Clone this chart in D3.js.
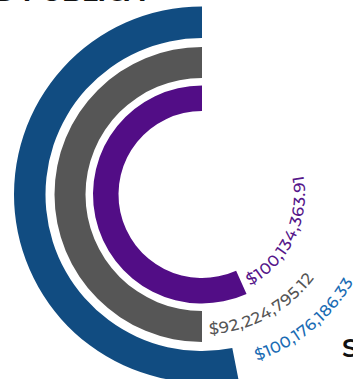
<!DOCTYPE html>
<html>
<head>
<meta charset="utf-8">
<script src="https://cdn.jsdelivr.net/npm/d3@7"></script>
<style>
  body { margin: 0; background: #fff; }
  svg { display: block; }
</style>
</head>
<body>
<div id="chart"></div>
<script>
// DATA (outer ring first)
var categories = ['blue', 'gray', 'purple'];
var amounts = [100176186.33, 92224795.12, 100134363.91];
// share of a full turn each bar sweeps
var progress = [0.531, 0.5, 0.567];

// LAYOUT
var WIDTH = 353;
var HEIGHT = 379;
var CX = 202;
var CY = 194.5;
var barColors = ['#114c81', '#565656', '#520d86'];
var labelColors = ['#1a6cb4', '#555555', '#55168a'];
var ringOuter = [188, 147.5, 109];
var ringInner = [156.5, 116.5, 83.5];
var labelRadius = [169, 134, 97];
var labelGap = [21, 7, 6];

var fmt = d3.format('$,.2f');

var svg = d3.select('#chart').append('svg')
    .attr('width', WIDTH)
    .attr('height', HEIGHT);

// cut-off heading text around the chart
svg.append('text')
    .attr('x', -6)
    .attr('y', 0.5)
    .style('font-family', 'Montserrat, "Open Sans", sans-serif')
    .style('font-weight', 700)
    .style('font-size', '26px')
    .attr('fill', '#111')
    .text('D PUBLICA');

svg.append('text')
    .attr('x', 342)
    .attr('y', 357)
    .style('font-family', 'Montserrat, "Open Sans", sans-serif')
    .style('font-weight', 600)
    .style('font-size', '26px')
    .attr('fill', '#111')
    .text('S');

var angle = d3.scaleLinear().domain([0, 1]).range([0, -2 * Math.PI]);

var g = svg.append('g')
    .attr('transform', 'translate(' + CX + ',' + CY + ')');

var arc = d3.arc()
    .innerRadius(function(d, i) { return ringInner[i]; })
    .outerRadius(function(d, i) { return ringOuter[i]; })
    .startAngle(0)
    .endAngle(function(d) { return angle(d); });

g.selectAll('path.bar')
  .data(progress)
  .enter().append('path')
    .attr('class', 'bar')
    .attr('d', function(d, i) { return arc(d, i); })
    .attr('fill', function(d, i) { return barColors[i]; });

// label paths: carry on round the ring past the bar end
g.selectAll('path.label-path')
  .data(progress)
  .enter().append('path')
    .attr('class', 'label-path')
    .attr('id', function(d, i) { return 'lp' + i; })
    .attr('fill', 'none')
    .attr('d', function(d, i) {
      var r = labelRadius[i];
      var a0 = angle(d) - labelGap[i] / r - Math.PI / 2;
      var p = d3.path();
      p.arc(0, 0, r, a0, a0 - Math.PI, true);
      return p.toString();
    });

g.selectAll('text.value')
  .data(amounts)
  .enter().append('text')
    .attr('class', 'value')
    .attr('dominant-baseline', 'central')
    .style('font-family', 'Montserrat, "Open Sans", sans-serif')
    .style('font-size', '16px')
    .style('font-weight', 500)
    .style('letter-spacing', '0.4px')
    .attr('fill', function(d, i) { return labelColors[i]; })
  .append('textPath')
    .attr('href', function(d, i) { return '#lp' + i; })
    .text(function(d) { return fmt(d); });
</script>
</body>
</html>
